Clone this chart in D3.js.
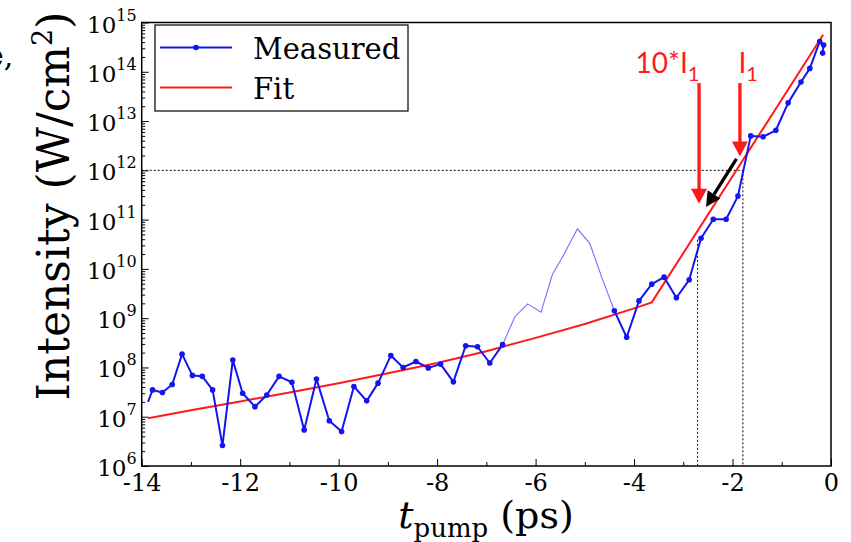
<!DOCTYPE html>
<html>
<head>
<meta charset="utf-8">
<script src="https://cdn.jsdelivr.net/npm/d3@7/dist/d3.min.js"></script>
<style>
  body { margin: 0; background: #fff; }
  svg { display: block; }
</style>
</head>
<body>
<script>
// ---- data ----
// measured pump intensity (W/cm^2) against pump time (ps)
const measuredT = [-13.87, -13.78, -13.58, -13.38, -13.18, -12.97, -12.77, -12.56, -12.36, -12.15,
  -11.95, -11.70, -11.46, -11.21, -10.95, -10.70, -10.45, -10.19, -9.94, -9.69,
  -9.43, -9.20, -8.94, -8.69, -8.43, -8.18, -7.93, -7.67, -7.42, -7.18,
  -6.93, -6.67, -6.42, -6.16, -5.89, -5.66, -5.42, -5.15, -4.90, -4.65,
  -4.40, -4.15, -3.90, -3.64, -3.39, -3.14, -2.88, -2.64, -2.39, -2.13,
  -1.89, -1.63, -1.38, -1.12, -0.87, -0.61, -0.43, -0.23, -0.15, -0.17];
const measuredI = [2.0e7, 3.5e7, 3.1e7, 4.5e7, 1.86e8, 6.9e7, 6.6e7, 3.5e7, 2.6e6, 1.41e8,
  3.0e7, 1.6e7, 2.75e7, 6.6e7, 5.0e7, 5.4e6, 5.8e7, 8.3e6, 5.0e6, 4.1e7,
  2.1e7, 4.8e7, 1.74e8, 1.0e8, 1.32e8, 9.8e7, 1.17e8, 5.1e7, 2.75e8, 2.63e8,
  1.23e8, 2.9e8, 1.07e9, 1.95e9, 1.32e9, 7.6e9, 2.0e10, 6.5e10, 3.3e10, 6.5e9,
  1.41e9, 4.1e8, 2.24e9, 4.9e9, 6.8e9, 2.6e9, 6.0e9, 4.2e10, 1.02e11, 1.02e11,
  3.0e11, 5.0e12, 4.8e12, 6.5e12, 2.34e13, 6.2e13, 1.17e14, 4.1e14, 3.5e14, 2.4e14];
// part of the measured trace drawn faint, without markers
const faintFrom = -6.67, faintTo = -4.40;

// fit
const fitT = [-13.87, -13, -12, -11, -10, -9, -8, -7, -6, -5, -4, -3.64, -0.16];
const fitI = [9.3e6, 1.35e7, 2.04e7, 3.09e7, 4.79e7, 7.59e7, 1.23e8, 2.14e8, 3.98e8, 7.59e8, 1.58e9, 2.09e9, 5.62e14];

const xTicks = [-14, -12, -10, -8, -6, -4, -2, 0];
const yExps = [6, 7, 8, 9, 10, 11, 12, 13, 14, 15];

// annotations
const I1 = 1e12;
const crossT = [-2.71, -1.79];          // dotted verticals
const crossTop = [3.9e10, 1e12];
const redArrows = [
  { t: -2.68, from: 5.9e13, to: 2.1e11, label: "10*I" },
  { t: -1.85, from: 5.9e13, to: 1.9e12, label: "I" },
];
const blackArrow = { t0: -1.92, i0: 1.7e12, t1: -2.54, i1: 1.8e11 };

// ---- chart ----
const W = 851, H = 542;
const mLeft = 141.7, mRight = 831, mTop = 22.5, mBottom = 466;
const serif = "'DejaVu Serif', serif";
const blue = "#1414f0", faintBlue = "#7070ff", red = "#ff1a1a";

const svg = d3.select("body").append("svg")
  .attr("width", W).attr("height", H)
  .attr("xmlns", "http://www.w3.org/2000/svg");

const x = d3.scaleLinear().domain([-14, 0]).range([mLeft, mRight]);
const y = d3.scaleLog().domain([1e6, 1e15]).range([mBottom, mTop]);

// clipped fragment of neighbouring text at the far left
svg.append("text").attr("x", -14).attr("y", 66)
  .attr("font-family", serif).attr("font-size", 30).text("e,");

// dotted guide lines
const guides = svg.append("g").attr("stroke", "#000").attr("stroke-width", 1)
  .attr("stroke-dasharray", "2,2").attr("fill", "none");
guides.append("line")
  .attr("x1", x(-14)).attr("x2", x(crossT[1]))
  .attr("y1", y(I1)).attr("y2", y(I1));
crossT.forEach((t, i) => {
  guides.append("line")
    .attr("x1", x(t)).attr("x2", x(t))
    .attr("y1", y(crossTop[i])).attr("y2", y(1e6));
});

// axes, ticks pointing inward
const gx = svg.append("g").attr("transform", `translate(0,${mBottom})`);
gx.call(d3.axisBottom(x).tickValues(d3.range(-13, 0, 2)).tickSizeInner(-4).tickSizeOuter(0).tickFormat(""));
const gx2 = svg.append("g").attr("transform", `translate(0,${mBottom})`);
gx2.call(d3.axisBottom(x).tickValues(xTicks).tickSizeInner(-7).tickSizeOuter(0).tickPadding(8)
  .tickFormat(d => d));
gx2.selectAll("text").attr("font-family", serif).attr("font-size", 24).attr("fill", "#000");

const minorY = [];
yExps.slice(0, -1).forEach(e => { for (let m = 2; m <= 9; m++) minorY.push(m * 10 ** e); });
const gy = svg.append("g").attr("transform", `translate(${mLeft},0)`);
gy.call(d3.axisLeft(y).tickValues(minorY).tickSizeInner(-3.5).tickSizeOuter(0).tickFormat(""));
const gy2 = svg.append("g").attr("transform", `translate(${mLeft},0)`);
gy2.call(d3.axisLeft(y).tickValues(yExps.map(e => 10 ** e)).tickSizeInner(-7).tickSizeOuter(0).tickFormat(""));
svg.selectAll(".domain").remove();
svg.selectAll(".tick line").attr("stroke", "#000").attr("stroke-width", 1);

const yl = svg.append("g").selectAll("text").data(yExps).join("text")
  .attr("x", mLeft - 5).attr("y", e => y(10 ** e) + 10)
  .attr("text-anchor", "end").attr("font-family", serif).attr("font-size", 23);
yl.append("tspan").text("10");
yl.append("tspan").attr("dy", -12).attr("font-size", 16).text(e => e);

// frame
svg.append("rect").attr("x", mLeft).attr("y", mTop)
  .attr("width", mRight - mLeft).attr("height", mBottom - mTop)
  .attr("fill", "none").attr("stroke", "#000").attr("stroke-width", 1.5);

// axis titles
const ytitle = svg.append("text")
  .attr("transform", `translate(69,206) rotate(-90)`)
  .attr("text-anchor", "middle").attr("font-family", serif).attr("font-size", 44);
ytitle.append("tspan").text("Intensity (W/cm");
ytitle.append("tspan").attr("dy", -17).attr("font-size", 27).text("2");
ytitle.append("tspan").attr("dy", 17).text(")");

const xtitle = svg.append("text")
  .attr("x", 486).attr("y", 528)
  .attr("text-anchor", "middle").attr("font-family", serif).attr("font-size", 38);
xtitle.append("tspan").attr("font-style", "italic").text("t");
xtitle.append("tspan").attr("dy", 9).attr("font-size", 26).text("pump");
xtitle.append("tspan").attr("dy", -9).text(" (ps)");

// series
const line = d3.line().x(d => x(d[0])).y(d => y(d[1]));
const pts = measuredT.map((t, i) => [t, measuredI[i]]);
const iFrom = measuredT.indexOf(faintFrom), iTo = measuredT.indexOf(faintTo);
const solidA = pts.slice(0, iFrom + 1), faint = pts.slice(iFrom, iTo + 1), solidB = pts.slice(iTo);

svg.append("path").datum(faint).attr("d", line)
  .attr("fill", "none").attr("stroke", faintBlue).attr("stroke-width", 1.1);

const fitPts = fitT.map((t, i) => [t, fitI[i]]);
svg.append("path").datum(fitPts).attr("d", line)
  .attr("fill", "none").attr("stroke", red).attr("stroke-width", 2);

[solidA, solidB].forEach(seg => {
  svg.append("path").datum(seg).attr("d", line)
    .attr("fill", "none").attr("stroke", blue).attr("stroke-width", 2)
    .attr("stroke-linejoin", "round");
});
svg.append("g").selectAll("circle")
  .data(solidA.slice(1).concat(solidB))
  .join("circle")
  .attr("cx", d => x(d[0])).attr("cy", d => y(d[1])).attr("r", 2.8)
  .attr("fill", blue);

// annotation arrows
const ann = svg.append("g");
redArrows.forEach(a => {
  const ax = x(a.t), y0 = y(a.from), y1 = y(a.to);
  ann.append("line").attr("x1", ax).attr("x2", ax).attr("y1", y0).attr("y2", y1 - 14)
    .attr("stroke", red).attr("stroke-width", 3.3);
  ann.append("path")
    .attr("d", `M${ax - 8},${y1 - 15}L${ax + 8},${y1 - 15}L${ax},${y1}Z`)
    .attr("fill", red);
});
{
  const x0 = x(blackArrow.t0), y0 = y(blackArrow.i0), x1 = x(blackArrow.t1), y1 = y(blackArrow.i1);
  const ang = Math.atan2(y1 - y0, x1 - x0);
  const hl = 15, hw = 7.5;
  const bx = x1 - hl * Math.cos(ang), by = y1 - hl * Math.sin(ang);
  ann.append("line").attr("x1", x0).attr("y1", y0).attr("x2", bx).attr("y2", by)
    .attr("stroke", "#000").attr("stroke-width", 3.3);
  ann.append("path")
    .attr("d", `M${bx + hw * Math.sin(ang)},${by - hw * Math.cos(ang)}L${bx - hw * Math.sin(ang)},${by + hw * Math.cos(ang)}L${x1},${y1}Z`)
    .attr("fill", "#000");
}
const labelX = [635.5, 738.5];
redArrows.forEach((a, i) => {
  const t = ann.append("text").attr("x", labelX[i]).attr("y", 73)
    .attr("font-family", "Lato, sans-serif").attr("font-size", 28).attr("fill", red);
  t.append("tspan").text(a.label);
  t.append("tspan").attr("dy", 8).attr("font-size", 20).text("1");
});

// legend
const lg = svg.append("g");
lg.append("rect").attr("x", 155).attr("y", 25).attr("width", 253).attr("height", 86)
  .attr("fill", "#fff").attr("stroke", "#000").attr("stroke-width", 1.2);
const legendItems = [
  { name: "Measured", color: blue, marker: true },
  { name: "Fit", color: red, marker: false },
];
legendItems.forEach((d, i) => {
  const ly = 47.5 + i * 40;
  lg.append("line").attr("x1", 160).attr("x2", 232).attr("y1", ly).attr("y2", ly)
    .attr("stroke", d.color).attr("stroke-width", 2);
  if (d.marker) lg.append("circle").attr("cx", 196).attr("cy", ly).attr("r", 2.8).attr("fill", d.color);
  lg.append("text").attr("x", 253).attr("y", ly + 11)
    .attr("font-family", serif).attr("font-size", 29).text(d.name);
});
</script>
</body>
</html>
